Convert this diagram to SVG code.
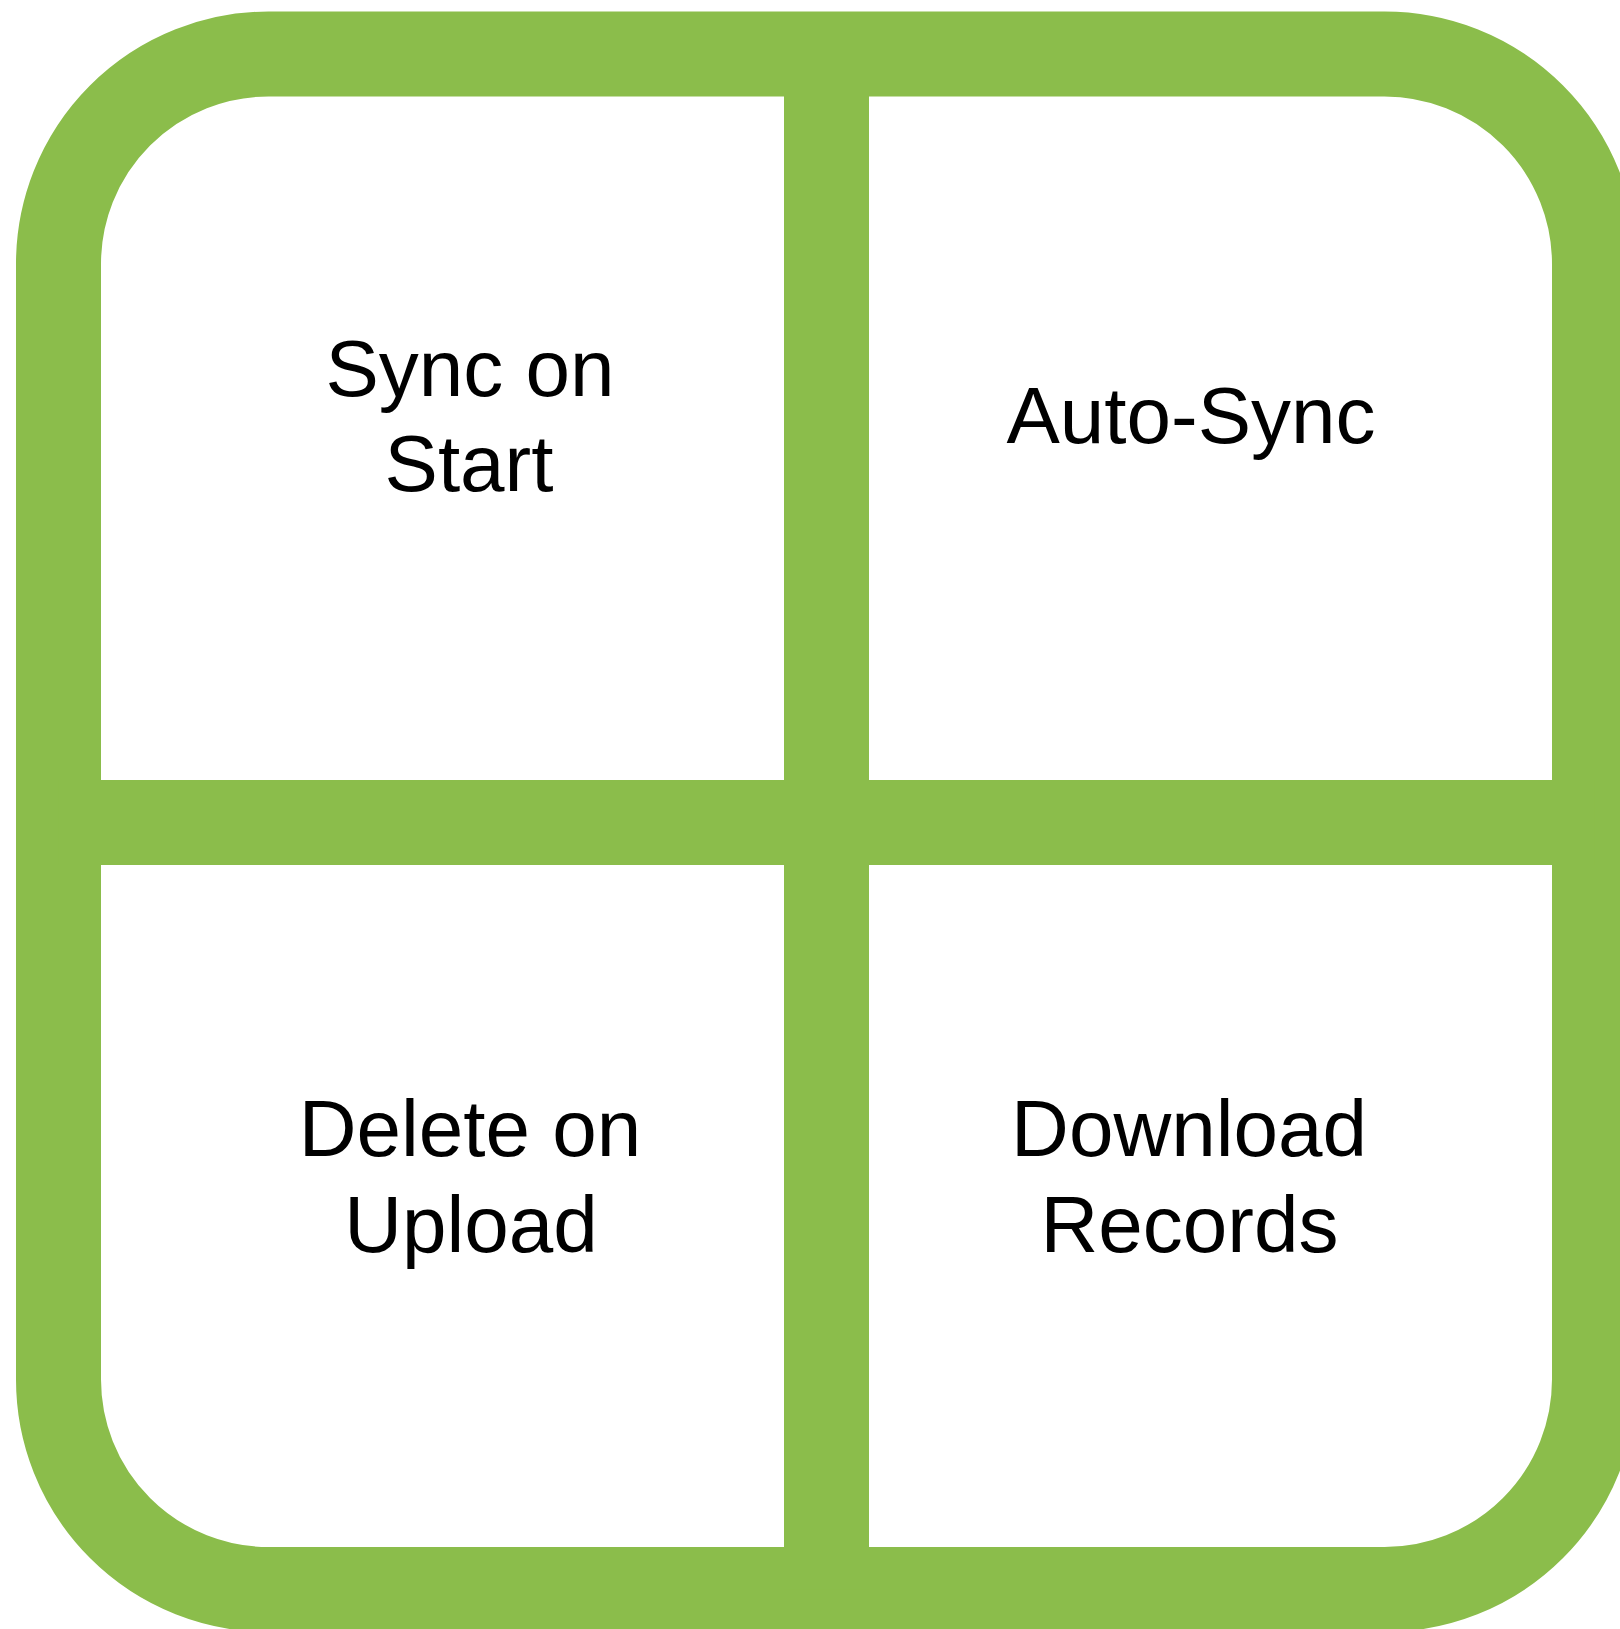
<svg xmlns="http://www.w3.org/2000/svg" width="1620" height="1629" viewBox="0 0 1620 1629">
<style>
.band{fill:none;stroke:#8bbd4b;stroke-width:85}
.label{font-family:"Liberation Sans",Arial,sans-serif;font-size:80px;fill:#000;text-anchor:middle}
</style>
<rect width="1620" height="1629" fill="#fff"/>
<g id="frame">
<rect class="band" x="58.500" y="54" width="1536" height="1535.500" rx="210" ry="210"/>
<path class="band" d="M826.500 54V1589.500M58.500 822.500H1594.500"/>
</g>
<g id="sync-on-start"><text class="label" x="470" y="395.500">Sync on</text><text class="label" x="469" y="491">Start</text></g>
<g id="auto-sync"><text class="label" x="1191" y="443">Auto-Sync</text></g>
<g id="delete-on-upload"><text class="label" x="470" y="1156">Delete on</text><text class="label" x="471" y="1251.500">Upload</text></g>
<g id="download-records"><text class="label" x="1189" y="1156">Download</text><text class="label" x="1189.500" y="1251.500">Records</text></g>
</svg>
